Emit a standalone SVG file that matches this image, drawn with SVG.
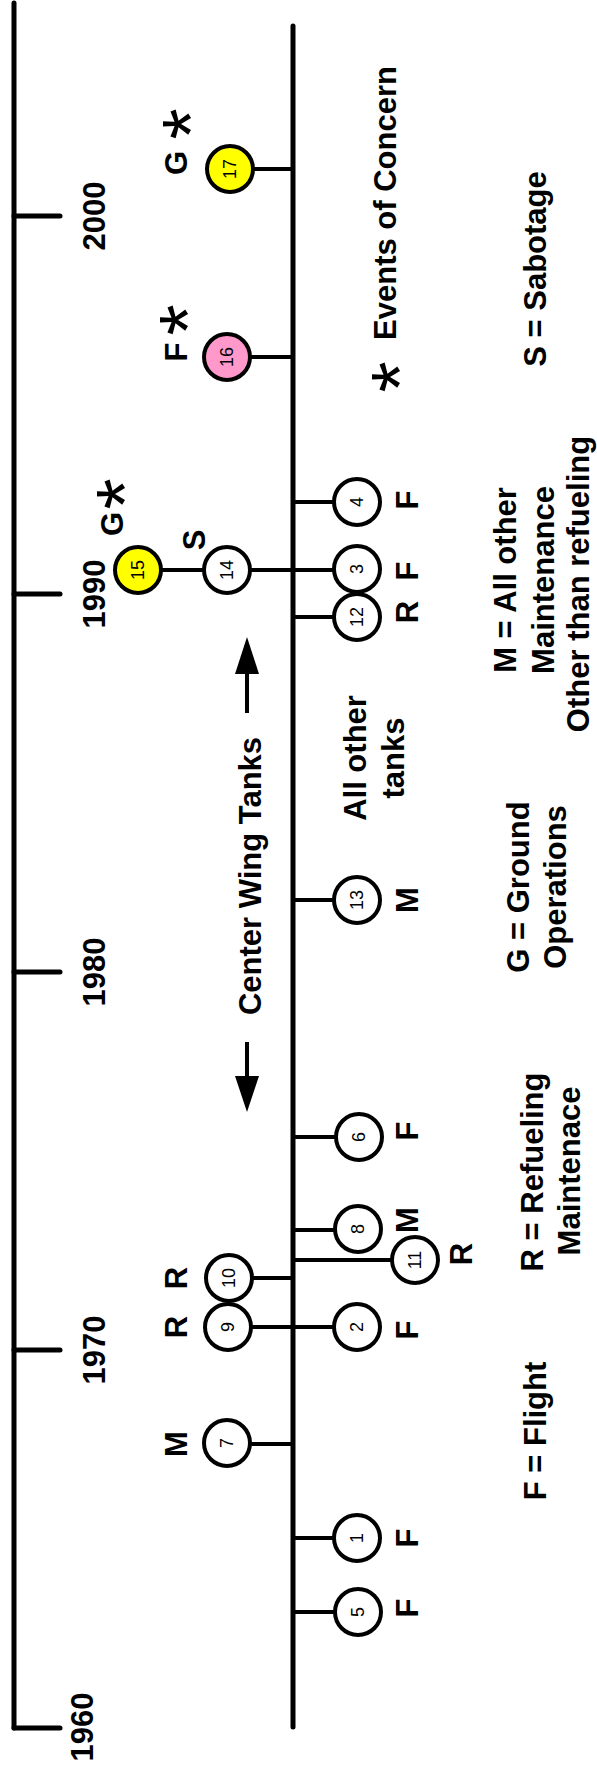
<svg xmlns="http://www.w3.org/2000/svg" width="597" height="1775" viewBox="0 0 597 1775">
<style>
.ax{stroke:#000;stroke-width:5;fill:none;stroke-linecap:round}
.tk{stroke:#000;stroke-width:5;fill:none;stroke-linecap:round}
.cn{stroke:#000;stroke-width:4;fill:none}
.c{stroke:#000;stroke-width:4;fill:#fff}
.y{fill:#ffff00}
.p{fill:#ff99cc}
text{font-family:"Liberation Sans",Arial,sans-serif;fill:#000;text-anchor:middle}
.b{font-size:31px;font-weight:bold}
.yr{font-size:31px;font-weight:bold}
.n{font-size:18px}
.ast{font-size:80px;font-weight:normal}
.ar{fill:#000;stroke:none}
</style>
<g id="axes">
<line class="ax" x1="14" y1="3" x2="14" y2="1728"/>
<line class="ax" x1="293" y1="26" x2="293" y2="1727"/>
<line class="tk" x1="14" y1="216" x2="60" y2="216"/>
<line class="tk" x1="14" y1="594" x2="60" y2="594"/>
<line class="tk" x1="14" y1="972" x2="60" y2="972"/>
<line class="tk" x1="14" y1="1350" x2="60" y2="1350"/>
<line class="tk" x1="14" y1="1728" x2="60" y2="1728"/>
</g>
<g id="years">
<text class="yr" transform="translate(105,216) rotate(-90)">2000</text>
<text class="yr" transform="translate(105,594) rotate(-90)">1990</text>
<text class="yr" transform="translate(105,972) rotate(-90)">1980</text>
<text class="yr" transform="translate(105,1350) rotate(-90)">1970</text>
<text class="yr" transform="translate(93,1727) rotate(-90)">1960</text>
</g>
<g id="connectors">
<line class="cn" x1="253" y1="169" x2="293" y2="169"/>
<line class="cn" x1="250" y1="357" x2="293" y2="357"/>
<line class="cn" x1="161" y1="570" x2="204" y2="570"/>
<line class="cn" x1="250" y1="570" x2="334" y2="570"/>
<line class="cn" x1="293" y1="502" x2="334" y2="502"/>
<line class="cn" x1="293" y1="617" x2="334" y2="617"/>
<line class="cn" x1="293" y1="900" x2="334" y2="900"/>
<line class="cn" x1="293" y1="1137" x2="336" y2="1137"/>
<line class="cn" x1="293" y1="1230" x2="335" y2="1230"/>
<line class="cn" x1="293" y1="1260" x2="392" y2="1260"/>
<line class="cn" x1="252" y1="1278" x2="293" y2="1278"/>
<line class="cn" x1="251" y1="1327" x2="334" y2="1327"/>
<line class="cn" x1="250" y1="1444" x2="293" y2="1444"/>
<line class="cn" x1="293" y1="1538" x2="334" y2="1538"/>
<line class="cn" x1="293" y1="1612" x2="335" y2="1612"/>
</g>
<g id="n17"><circle class="c y" cx="230" cy="169" r="23"/><text class="n" transform="translate(236,169) rotate(-90)">17</text><text class="b" transform="translate(187,163) rotate(-90)">G</text><text class="ast" transform="translate(218,124) rotate(-90)">*</text></g>
<g id="n16"><circle class="c p" cx="227" cy="357" r="23"/><text class="n" transform="translate(233,357) rotate(-90)">16</text><text class="b" transform="translate(187,352) rotate(-90)">F</text><text class="ast" transform="translate(215,320) rotate(-90)">*</text></g>
<g id="n15"><circle class="c y" cx="138" cy="570" r="23"/><text class="n" transform="translate(144,570) rotate(-90)">15</text><text class="b" transform="translate(123,524) rotate(-90)">G</text><text class="ast" transform="translate(152,494) rotate(-90)">*</text></g>
<g id="n14"><circle class="c" cx="227" cy="570" r="23"/><text class="n" transform="translate(233,570) rotate(-90)">14</text><text class="b" transform="translate(205,540) rotate(-90)">S</text></g>
<g id="n4"><circle class="c" cx="357" cy="502" r="23"/><text class="n" transform="translate(363,502) rotate(-90)">4</text><text class="b" transform="translate(418,500) rotate(-90)">F</text></g>
<g id="n12"><circle class="c" cx="357" cy="617" r="23"/><text class="n" transform="translate(363,617) rotate(-90)">12</text><text class="b" transform="translate(418,612) rotate(-90)">R</text></g>
<g id="n3"><circle class="c" cx="357" cy="569" r="23"/><text class="n" transform="translate(363,569) rotate(-90)">3</text><text class="b" transform="translate(418,571) rotate(-90)">F</text></g>
<g id="n13"><circle class="c" cx="357" cy="900" r="23"/><text class="n" transform="translate(363,900) rotate(-90)">13</text><text class="b" transform="translate(418,900) rotate(-90)">M</text></g>
<g id="n6"><circle class="c" cx="359" cy="1137" r="23"/><text class="n" transform="translate(365,1137) rotate(-90)">6</text><text class="b" transform="translate(418,1131) rotate(-90)">F</text></g>
<g id="n8"><circle class="c" cx="358" cy="1229" r="23"/><text class="n" transform="translate(364,1229) rotate(-90)">8</text><text class="b" transform="translate(418,1220) rotate(-90)">M</text></g>
<g id="n11"><circle class="c" cx="415" cy="1260" r="23"/><text class="n" transform="translate(421,1260) rotate(-90)">11</text><text class="b" transform="translate(472,1254) rotate(-90)">R</text></g>
<g id="n2"><circle class="c" cx="357" cy="1327" r="23"/><text class="n" transform="translate(363,1327) rotate(-90)">2</text><text class="b" transform="translate(418,1330) rotate(-90)">F</text></g>
<g id="n10"><circle class="c" cx="229" cy="1278" r="23"/><text class="n" transform="translate(235,1278) rotate(-90)">10</text><text class="b" transform="translate(187,1278) rotate(-90)">R</text></g>
<g id="n9"><circle class="c" cx="228" cy="1327" r="23"/><text class="n" transform="translate(234,1327) rotate(-90)">9</text><text class="b" transform="translate(187,1327) rotate(-90)">R</text></g>
<g id="n7"><circle class="c" cx="227" cy="1443" r="23"/><text class="n" transform="translate(233,1443) rotate(-90)">7</text><text class="b" transform="translate(187,1444) rotate(-90)">M</text></g>
<g id="n1"><circle class="c" cx="357" cy="1538" r="23"/><text class="n" transform="translate(363,1538) rotate(-90)">1</text><text class="b" transform="translate(418,1538) rotate(-90)">F</text></g>
<g id="n5"><circle class="c" cx="358" cy="1612" r="23"/><text class="n" transform="translate(364,1612) rotate(-90)">5</text><text class="b" transform="translate(418,1608) rotate(-90)">F</text></g>
<g id="centerwing">
<text class="b" transform="translate(261,876) rotate(-90)">Center Wing Tanks</text>
<line class="cn" x1="247" y1="713" x2="247" y2="670"/>
<polygon class="ar" points="247,637 235,674 259,674"/>
<line class="cn" x1="247" y1="1042" x2="247" y2="1080"/>
<polygon class="ar" points="247,1112 235,1076 259,1076"/>
</g>
<g id="othertanks">
<text class="b" transform="translate(366,758) rotate(-90)">All other</text>
<text class="b" transform="translate(404,758) rotate(-90)">tanks</text>
</g>
<g id="legend">
<text class="b" transform="translate(396,203) rotate(-90)">Events of Concern</text>
<text class="ast" transform="translate(427,377) rotate(-90)">*</text>
<text class="b" transform="translate(546,269) rotate(-90)">S = Sabotage</text>
<text class="b" transform="translate(516,580) rotate(-90)">M = All other</text>
<text class="b" transform="translate(554,580) rotate(-90)">Maintenance</text>
<text class="b" transform="translate(589,584) rotate(-90)">Other than refueling</text>
<text class="b" transform="translate(529,887) rotate(-90)">G = Ground</text>
<text class="b" transform="translate(566,887) rotate(-90)">Operations</text>
<text class="b" transform="translate(543,1172) rotate(-90)">R = Refueling</text>
<text class="b" transform="translate(580,1171) rotate(-90)">Maintenace</text>
<text class="b" transform="translate(546,1431) rotate(-90)">F = Flight</text>
</g>
</svg>
